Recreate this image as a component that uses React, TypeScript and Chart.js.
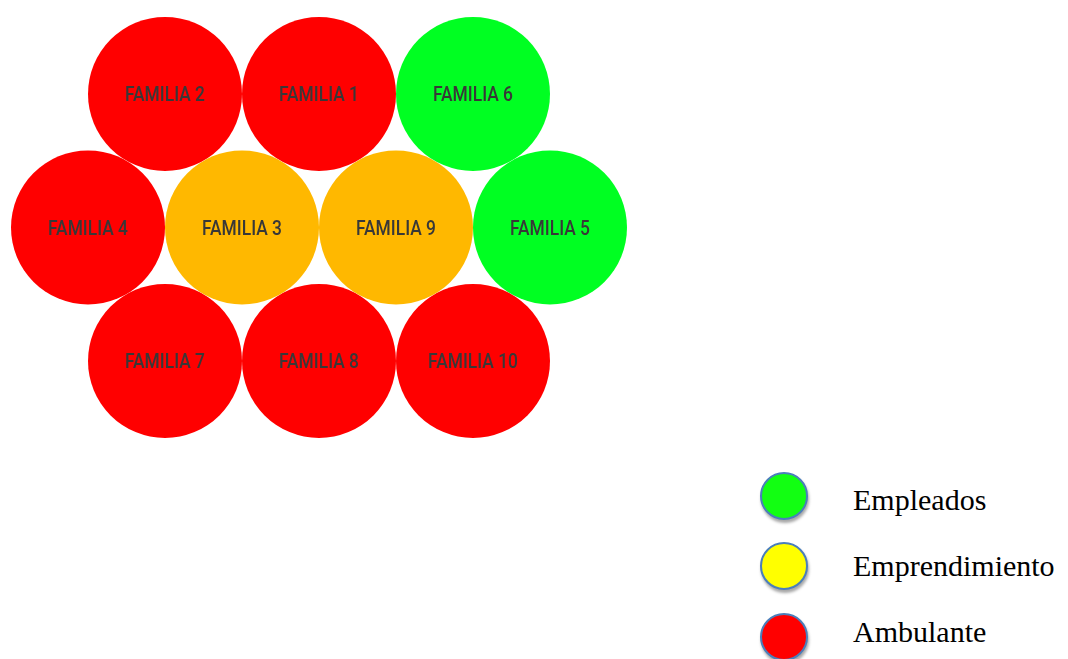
import React, { useEffect, useRef } from "react";
import { Chart, registerables } from "chart.js";

Chart.register(...registerables);

// Data
const familyLabels = [
  "FAMILIA 2", "FAMILIA 1", "FAMILIA 6",
  "FAMILIA 4", "FAMILIA 3", "FAMILIA 9", "FAMILIA 5",
  "FAMILIA 7", "FAMILIA 8", "FAMILIA 10",
];
const gridColumn = [1, 3, 5, 0, 2, 4, 6, 1, 3, 5];
const gridRow = [2, 2, 2, 1, 1, 1, 1, 0, 0, 0];
const bubbleSize = [77, 77, 77, 77, 77, 77, 77, 77, 77, 77];
const familyCategory = [
  "Ambulante", "Ambulante", "Empleados",
  "Ambulante", "Emprendimiento", "Emprendimiento", "Empleados",
  "Ambulante", "Ambulante", "Ambulante",
];
const legendCategories = ["Empleados", "Emprendimiento", "Ambulante"];
const bubbleColors = ["#00FF22", "#FFB800", "#FF0000"];
const legendColors = ["#12FF12", "#FFFF00", "#FF0000"];

const labelPlugin = {
  id: "bubbleLabels",
  afterDatasetsDraw(chart: any) {
    const ctx = chart.ctx;
    chart.data.datasets.forEach((ds: any, di: number) => {
      const meta = chart.getDatasetMeta(di);
      meta.data.forEach((el: any, i: number) => {
        const label = ds.data[i].label;
        ctx.save();
        ctx.translate(el.x, el.y);
        ctx.scale(0.87, 1);
        ctx.font = "500 20px Roboto";
        ctx.fillStyle = "#383838";
        ctx.textAlign = "center";
        ctx.textBaseline = "alphabetic";
        ctx.fillText(label, 0, 7.5);
        ctx.restore();
      });
    });
  },
};

export default function App() {
  const canvasRef = useRef<HTMLCanvasElement>(null);

  useEffect(() => {
    if (!canvasRef.current) return;
    const datasets = legendCategories.map((cat, ci) => ({
      label: cat,
      data: familyLabels
        .map((lab, i) => ({ x: gridColumn[i], y: gridRow[i], r: bubbleSize[i], label: lab, cat: familyCategory[i] }))
        .filter((d) => d.cat === cat),
      backgroundColor: bubbleColors[ci],
      borderWidth: 0,
      hoverBorderWidth: 0,
    }));
    const chart = new Chart(canvasRef.current, {
      type: "bubble",
      data: { datasets },
      options: {
        animation: false,
        responsive: true,
        maintainAspectRatio: false,
        layout: { padding: 0, autoPadding: false },
        plugins: { legend: { display: false }, tooltip: { enabled: false } },
        scales: {
          x: { type: "linear", display: false, min: -1.143, max: 7.143 },
          y: { type: "linear", display: false, min: -0.667, max: 2.704 },
        },
      } as any,
      plugins: [labelPlugin],
    });
    return () => chart.destroy();
  }, []);

  const legendCenters = [496, 566, 637];
  const legendBaselines = [510, 576, 642];

  return (
    <div style={{ position: "fixed", left: 0, top: 0, width: 1068, height: 659, background: "#fff", overflow: "hidden" }}>
      <div style={{ position: "absolute", left: 0, top: 0, width: 638, height: 450 }}>
        <canvas ref={canvasRef} />
      </div>
      {legendCategories.map((cat, i) => (
        <React.Fragment key={cat}>
          <div
            style={{
              position: "absolute",
              left: 784 - 24,
              top: legendCenters[i] - 24,
              width: 44,
              height: 44,
              borderRadius: "50%",
              background: legendColors[i],
              border: "2px solid #4A7EBB",
              boxShadow: "1px 3px 3px rgba(0,0,0,0.35)",
            }}
          />
          <div
            style={{
              position: "absolute",
              left: 853,
              top: legendBaselines[i] - 25,
              font: "30px 'Liberation Serif'",
              lineHeight: "30px",
              color: "#000",
              whiteSpace: "nowrap",
            }}
          >
            {cat}
          </div>
        </React.Fragment>
      ))}
    </div>
  );
}
